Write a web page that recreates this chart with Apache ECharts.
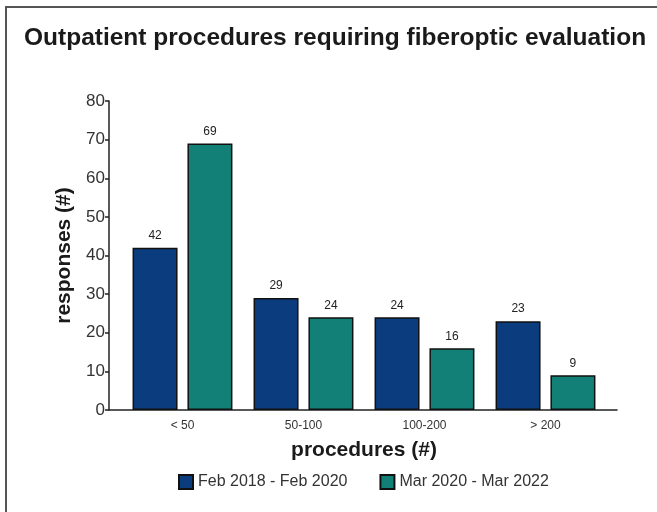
<!DOCTYPE html>
<html><head><meta charset="utf-8">
<script src="https://cdn.jsdelivr.net/npm/echarts@6/dist/echarts.min.js"></script>
<style>html,body{margin:0;padding:0;background:#fff;}#c{width:657px;height:512px;}</style>
</head><body><div id="c"></div>
<script>
const categories = ['< 50', '50-100', '100-200', '> 200'];
const seriesNames = ['Feb 2018 - Feb 2020', 'Mar 2020 - Mar 2022'];
const period1 = [42, 29, 24, 23];
const period2 = [69, 24, 16, 9];
const yTicks = [0, 10, 20, 30, 40, 50, 60, 70, 80];

const chart = echarts.init(document.getElementById('c'));
const font = 'Liberation Sans, Arial, sans-serif';
const labelCfg = {show: true, position: 'top', distance: 6, color: '#222', fontSize: 12, fontFamily: font};
chart.setOption({
  animation: false,
  backgroundColor: '#fff',
  title: {text: 'Outpatient procedures requiring fiberoptic evaluation', left: 19, top: 21,
    textStyle: {fontFamily: font, fontWeight: 'bold', fontSize: 24.5, color: '#1a1a1a'}},
  legend: {top: 469, left: 173, itemWidth: 14, itemHeight: 14, itemGap: 32,
    textStyle: {fontFamily: font, fontSize: 16, color: '#333'},
    data: seriesNames.map(n => ({name: n, icon: 'rect'}))},
  graphic: [{type: 'polyline', shape: {points: [[6, 512], [6, 7], [657, 7]]}, style: {stroke: '#555', lineWidth: 2, fill: null}}],
  grid: [
    {left: 122, right: 51, top: 101, bottom: 102},
    {left: 109, right: 40, top: 101, bottom: 102}
  ],
  xAxis: [
    {type: 'category', gridIndex: 0, data: categories, axisLine: {show: false}, axisTick: {show: false},
     axisLabel: {fontFamily: font, fontSize: 12, color: '#333', margin: 10},
     name: 'procedures (#)', nameLocation: 'middle', nameGap: 30,
     nameTextStyle: {fontFamily: font, fontWeight: 'bold', fontSize: 21, color: '#1a1a1a'}},
    {type: 'value', gridIndex: 1, min: 0, max: 1, axisLine: {show: true, onZero: false, lineStyle: {color: '#222', width: 1.5}},
     axisTick: {show: false}, axisLabel: {show: false}, splitLine: {show: false}}
  ],
  yAxis: [
    {type: 'value', gridIndex: 0, min: yTicks[0], max: yTicks[yTicks.length - 1], interval: 10, offset: 13,
     axisLine: {show: true, lineStyle: {color: '#222', width: 1.5}},
     axisTick: {show: true, length: 4, lineStyle: {color: '#222', width: 1.5}},
     axisLabel: {fontFamily: font, fontSize: 17, color: '#333', margin: 4},
     splitLine: {show: false},
     name: 'responses (#)', nameLocation: 'middle', nameGap: 24, nameRotate: 90,
     nameTextStyle: {fontFamily: font, fontWeight: 'bold', fontSize: 21, color: '#1a1a1a'}},
    {type: 'value', gridIndex: 1, show: false, min: 0, max: 1}
  ],
  series: [
    {name: seriesNames[0], type: 'bar', data: period1, barWidth: 45, barGap: '22%',
     itemStyle: {color: '#0b3c7d', borderColor: '#111', borderWidth: 1.5}, label: labelCfg},
    {name: seriesNames[1], type: 'bar', data: period2, barWidth: 45, barGap: '22%',
     itemStyle: {color: '#138077', borderColor: '#111', borderWidth: 1.5}, label: labelCfg}
  ]
});
</script></body></html>
